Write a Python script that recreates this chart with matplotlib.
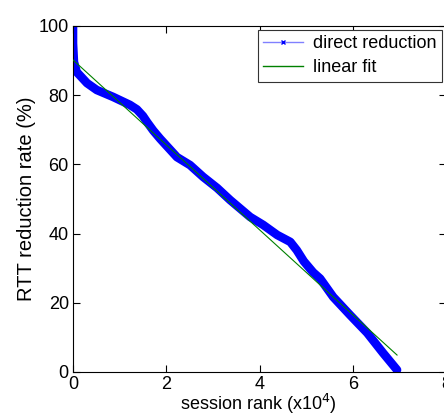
import matplotlib.pyplot as plt
from matplotlib.lines import Line2D

plt.rcParams['font.family'] = ['Liberation Sans', 'DejaVu Sans']

# session rank (x10^4) vs direct RTT reduction rate (%)
rank = [0, 0.0, 0.02, 0.08, 0.3, 0.51, 0.86, 1.22, 1.37, 1.5, 1.59, 1.72, 1.87,
        2.23, 2.51, 2.79, 3.09, 3.37, 3.8, 4.08, 4.38, 4.66, 4.8, 4.95, 5.15,
        5.3, 5.58, 5.94, 6.31, 6.65, 6.95]
reduction = [100, 95, 89.6, 86.7, 83.5, 81.5, 79.5, 77.2, 75.9, 74, 72.2, 69.8,
             67.4, 62.1, 59.8, 56.4, 53.2, 49.7, 44.8, 42.5, 39.6, 37.6, 35.2,
             32, 28.8, 27, 21.7, 16.5, 11.3, 5.5, 0.6]

# linear fit end points
fit_x = [0, 6.95]
fit_y = [90.2, 4.9]

fig = plt.figure(figsize=(4.44, 4.17), dpi=100)
ax = fig.add_axes([73/444, 45/417, 373/444, 346/417])

ax.plot(rank, reduction, color='#0000ff', lw=6.2, solid_joinstyle='round',
        solid_capstyle='round', zorder=2)
ax.plot(fit_x, fit_y, color='#008000', lw=0.8, zorder=3)

ax.set_xlim(0, 8)
ax.set_ylim(0, 100)
ax.set_xticks([0, 2, 4, 6, 8])
ax.set_yticks([0, 20, 40, 60, 80, 100])
ax.tick_params(direction='in', length=5, width=0.8, top=True, right=True,
               labelsize=13, pad=3)
for s in ax.spines.values():
    s.set_linewidth(0.8)

ax.set_ylabel('RTT reduction rate (%)', fontsize=14.5)
ax.yaxis.set_label_coords(-0.10, 0.5)
ax.set_xlabel('session rank (x10$^4$)', fontsize=13)
ax.xaxis.set_label_coords(0.496, -0.058)

handles = [Line2D([], [], color='#8080ff', lw=1, marker='x', markersize=3,
                  markeredgecolor='#0000ff'),
           Line2D([], [], color='#008000', lw=1)]
leg = ax.legend(handles, ['direct reduction', 'linear fit'], loc='upper right',
                bbox_to_anchor=(1.0, 1.0), fontsize=13, fancybox=False,
                framealpha=1, edgecolor='#333333', borderpad=0.3,
                labelspacing=0.4, handlelength=2.2, handletextpad=0.6,
                borderaxespad=0.2)
leg.get_frame().set_linewidth(0.8)

fig.savefig('out.png', dpi=100)
